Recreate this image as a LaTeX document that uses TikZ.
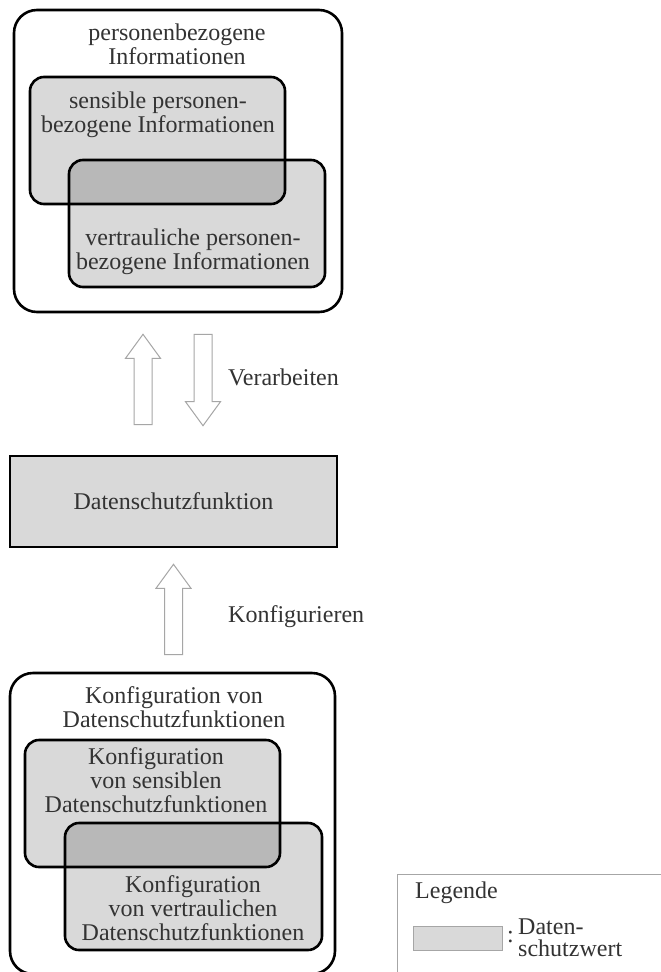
\documentclass[tikz,border=0pt]{standalone}
\usepackage{fontspec}
\setmainfont{Liberation Serif}
\usetikzlibrary{calc}
\tikzstyle{every node}=[font=\fontsize{24}{24}\selectfont, text=black!80]
\tikzstyle{outerbox}=[draw, line width=2.6pt, rounded corners=23pt, fill=white]
\tikzstyle{wertbox}=[draw, line width=2.6pt, fill=black, fill opacity=.15, text opacity=1]
\tikzstyle{teilbox}=[wertbox, rounded corners=14pt, minimum width=255pt, minimum height=127pt]
\tikzstyle{beschr}=[inner sep=0pt, align=center]
\tikzstyle{legendbox}=[draw=gray!70, line width=1pt]
\tikzstyle{blockarrow}=[draw=gray!70, fill=white, line width=1pt,
  to path={let \p1=(\tikztostart), \p2=(\tikztotarget), \n1={24*sign(\y2-(\y1))} in
    (\x1-9pt,\y1) -- (\x1-9pt,{\y2-(\n1)*1pt}) -- (\x1-17.5pt,{\y2-(\n1)*1pt}) -- (\x1,\y2)
    -- (\x1+17.5pt,{\y2-(\n1)*1pt}) -- (\x1+9pt,{\y2-(\n1)*1pt}) -- (\x1+9pt,\y1) -- cycle}]

\begin{document}
\begin{tikzpicture}[x=1pt, y=-1pt]
  \useasboundingbox[fill=white] (0,0) rectangle (661,972);
  \clip (0,0) rectangle (661,972);

  % personenbezogene Informationen
  \node[outerbox, minimum width=328pt, minimum height=302pt] (pers) at (178,161) {};
  \node[beschr] (perstitle) at (177,44) {personenbezogene\\Informationen};
  \node[teilbox] (sens) at (157.5,140.5) {};
  \node[teilbox, minimum width=256pt] (vertr) at (197,223.5) {};
  \node[beschr] (senstext) at (158,115) {sensible personen-\\bezogene Informationen};
  \node[beschr] (vertrtext) at (193,252) {vertrauliche personen-\\bezogene Informationen};

  \node[wertbox, minimum width=327pt, minimum height=91pt] (dsf) at (173.5,501.5) {Datenschutzfunktion};

  \draw[blockarrow] ([xshift=-30.5pt,yshift=30pt]dsf.north) to ([xshift=-35pt,yshift=-21pt]pers.south);
  \draw[blockarrow] ([xshift=25pt,yshift=-21pt]pers.south) to ([xshift=29.5pt,yshift=29pt]dsf.north);
  \node[beschr, anchor=west] (verarb) at (228,377) {Verarbeiten};

  % Konfiguration
  \node[outerbox, minimum width=325pt, minimum height=301pt] (konf) at (172.5,823.5) {};
  \node[beschr] (konftitle) at (174,707) {Konfiguration von\\Datenschutzfunktionen};
  \node[teilbox] (ksens) at (152.5,803.5) {};
  \node[teilbox, minimum width=257pt] (kvertr) at (193.5,886.5) {};
  \node[beschr] (ksenstext) at (156,780) {Konfiguration\\von sensiblen\\Datenschutzfunktionen};
  \node[beschr] (kvertrtext) at (193,908) {Konfiguration\\von vertraulichen\\Datenschutzfunktionen};

  \draw[blockarrow] ([xshift=1pt,yshift=17pt]konf.north) to ([yshift=-16pt]dsf.south);
  \node[beschr, anchor=west] (konfig) at (228,617) {Konfigurieren};

  % Legende
  \node[legendbox, anchor=north west, minimum width=300pt, minimum height=150pt] (legende) at (397,874) {};
  \node[beschr, anchor=west] (legtitle) at (415,893) {Legende};
  \node[wertbox, draw=gray!70, line width=1pt, minimum width=89pt, minimum height=24pt] (swatch) at (457.5,938) {};
  \node[beschr, anchor=west] (colon) at (507,937) {:};
  \node[beschr, anchor=west, align=left, font=\fontsize{24}{22}\selectfont] (legtext) at (518,938) {Daten-\\schutzwert};
\end{tikzpicture}
\end{document}
